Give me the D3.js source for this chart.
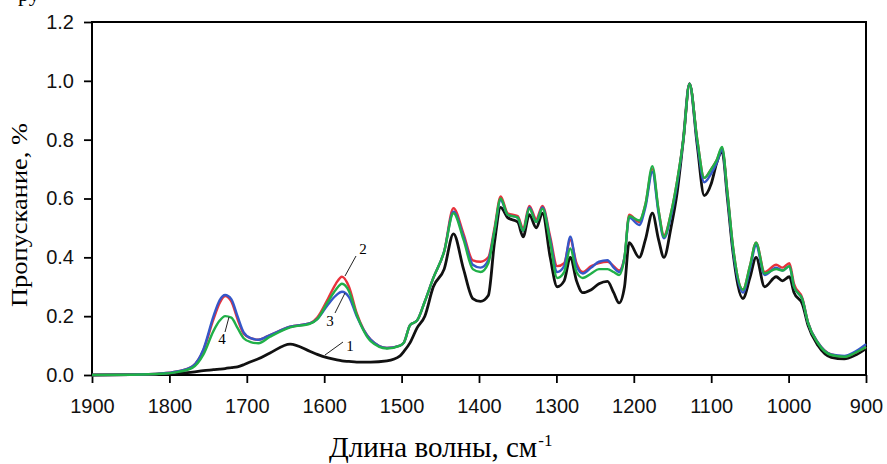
<!DOCTYPE html>
<meta charset="utf-8">
<style>
body { margin: 0; background: #fff; }
.axis text { font: 20px "Liberation Sans", Arial, sans-serif; fill: #111; }
.axis path { display: none; }
.axis line { stroke: #000; stroke-width: 1.8; }
.title { font-family: "Liberation Serif", "Times New Roman", serif; fill: #000; }
</style>
<svg width="887" height="464"></svg>
<script src="https://cdn.jsdelivr.net/npm/d3@7/dist/d3.min.js"></script>
<script>
// wavenumbers, cm-1 (shared by all curves)
var waves = [1900, 1850, 1810, 1790, 1770, 1756, 1743, 1735, 1728, 1720, 1712, 1704, 1695, 1685, 1670, 1644,
  1618, 1609, 1595, 1585, 1577, 1568, 1558, 1540, 1519, 1502, 1497, 1489, 1480, 1470, 1459, 1445, 1433, 1420,
  1408, 1398, 1388, 1380, 1372, 1363, 1350, 1343, 1335, 1326, 1318, 1308, 1299, 1290, 1282, 1274, 1266, 1255,
  1245, 1234, 1226, 1219, 1212, 1206, 1193, 1185, 1176, 1168, 1161, 1152, 1144, 1136, 1128, 1118, 1109, 1100,
  1093, 1086, 1079, 1072, 1059, 1050, 1042, 1031, 1016, 1008, 999, 993, 982, 975, 962, 945, 928, 915, 900];

var curve1 = [0.0, 0.001, 0.003, 0.006, 0.01, 0.015, 0.018, 0.02, 0.022, 0.025, 0.028, 0.035, 0.045, 0.055, 0.075, 0.105,
  0.08, 0.07, 0.058, 0.052, 0.048, 0.046, 0.044, 0.044, 0.048, 0.065, 0.08, 0.11, 0.16, 0.2, 0.3, 0.36, 0.48, 0.36,
  0.26, 0.25, 0.27, 0.45, 0.57, 0.535, 0.52, 0.47, 0.545, 0.5, 0.55, 0.4, 0.3, 0.32, 0.4, 0.32, 0.28, 0.29,
  0.31, 0.318, 0.28, 0.245, 0.3, 0.45, 0.4, 0.46, 0.55, 0.46, 0.4, 0.5, 0.62, 0.8, 0.99, 0.78, 0.61, 0.65,
  0.72, 0.76, 0.6, 0.42, 0.26, 0.33, 0.4, 0.3, 0.334, 0.32, 0.334, 0.28, 0.24, 0.17, 0.1, 0.06, 0.055, 0.066, 0.09];

var curve2 = [0.0, 0.001, 0.005, 0.012, 0.03, 0.085, 0.19, 0.245, 0.268, 0.25, 0.19, 0.14, 0.125, 0.12, 0.136, 0.164,
  0.176, 0.195, 0.26, 0.31, 0.334, 0.3, 0.21, 0.12, 0.092, 0.1, 0.11, 0.17, 0.185, 0.25, 0.33, 0.42, 0.567, 0.48,
  0.39, 0.385, 0.4, 0.5, 0.607, 0.55, 0.54, 0.5, 0.575, 0.53, 0.575, 0.47, 0.37, 0.38, 0.46, 0.38, 0.35, 0.37,
  0.38, 0.385, 0.37, 0.355, 0.4, 0.545, 0.52, 0.58, 0.7, 0.56, 0.475, 0.55, 0.66, 0.8, 0.99, 0.8, 0.67, 0.7,
  0.73, 0.77, 0.62, 0.44, 0.29, 0.37, 0.45, 0.35, 0.375, 0.365, 0.38, 0.31, 0.26, 0.18, 0.11, 0.07, 0.063, 0.074, 0.095];

var curve3 = [0.0, 0.001, 0.005, 0.012, 0.03, 0.088, 0.2, 0.255, 0.272, 0.258, 0.2, 0.145, 0.125, 0.12, 0.136, 0.164,
  0.176, 0.19, 0.24, 0.27, 0.283, 0.265, 0.2, 0.12, 0.092, 0.1, 0.11, 0.17, 0.185, 0.25, 0.33, 0.42, 0.555, 0.47,
  0.375, 0.365, 0.39, 0.49, 0.595, 0.545, 0.535, 0.49, 0.57, 0.52, 0.57, 0.46, 0.35, 0.37, 0.47, 0.37, 0.345, 0.365,
  0.385, 0.39, 0.365, 0.35, 0.4, 0.535, 0.51, 0.57, 0.69, 0.55, 0.465, 0.54, 0.65, 0.8, 0.99, 0.79, 0.655, 0.685,
  0.72, 0.765, 0.61, 0.43, 0.28, 0.36, 0.44, 0.34, 0.365, 0.355, 0.37, 0.3, 0.255, 0.178, 0.11, 0.07, 0.065, 0.078, 0.105];

var curve4 = [0.0, 0.001, 0.004, 0.01, 0.025, 0.07, 0.15, 0.185, 0.2, 0.195, 0.16, 0.125, 0.112, 0.108, 0.13, 0.162,
  0.175, 0.19, 0.25, 0.29, 0.31, 0.285, 0.205, 0.115, 0.09, 0.1, 0.11, 0.17, 0.185, 0.25, 0.33, 0.42, 0.55, 0.46,
  0.36, 0.35, 0.38, 0.49, 0.6, 0.545, 0.535, 0.49, 0.565, 0.52, 0.565, 0.45, 0.33, 0.35, 0.43, 0.35, 0.33, 0.345,
  0.36, 0.36, 0.35, 0.34, 0.4, 0.54, 0.525, 0.58, 0.71, 0.56, 0.47, 0.55, 0.66, 0.8, 0.99, 0.8, 0.67, 0.7,
  0.73, 0.775, 0.62, 0.44, 0.29, 0.37, 0.45, 0.345, 0.36, 0.355, 0.37, 0.3, 0.255, 0.178, 0.108, 0.068, 0.062, 0.074, 0.095];

var seriesColors = ["#111111", "#e8333c", "#3557c9", "#20b048"];
var xTicks = [1900, 1800, 1700, 1600, 1500, 1400, 1300, 1200, 1100, 1000, 900];
var yTicks = [0, 0.2, 0.4, 0.6, 0.8, 1.0, 1.2];

var svg = d3.select("svg");
var x = d3.scaleLinear().domain([1900, 900]).range([92, 866]);
var y = d3.scaleLinear().domain([0, 1.2]).range([375, 22]);

// frame
svg.append("rect")
    .attr("x", x(1900)).attr("y", y(1.2))
    .attr("width", x(900) - x(1900)).attr("height", y(0) - y(1.2))
    .attr("fill", "none").attr("stroke", "#000").attr("stroke-width", 2);

svg.append("g").attr("class", "axis")
    .attr("transform", "translate(0," + y(0) + ")")
    .call(d3.axisBottom(x).tickValues(xTicks).tickFormat(d3.format("d")).tickSize(8).tickPadding(16));

svg.append("g").attr("class", "axis")
    .attr("transform", "translate(" + x(1900) + ",0)")
    .call(d3.axisLeft(y).tickValues(yTicks).tickFormat(d3.format(".1f")).tickSize(8).tickPadding(10));

var line = d3.line()
    .x(function(d) { return x(d[0]); })
    .y(function(d) { return y(d[1]); })
    .curve(d3.curveMonotoneX);

[curve1, curve2, curve3, curve4].forEach(function(vals, i) {
  svg.append("path")
      .datum(waves.map(function(w, k) { return [w, vals[k]]; }))
      .attr("fill", "none")
      .attr("stroke", seriesColors[i])
      .attr("stroke-width", i == 0 ? 2.8 : 2.4)
      .attr("stroke-linejoin", "round")
      .attr("d", line);
});

// curve labels with leader lines
var notes = [
  {t: "1", lx: 350, ly: 351, x1: 343, y1: 342, x2: 325, y2: 355},
  {t: "2", lx: 363, ly: 254, x1: 356, y1: 256, x2: 345, y2: 276},
  {t: "3", lx: 330, ly: 326, x1: 335, y1: 313, x2: 345, y2: 293},
  {t: "4", lx: 222, ly: 344, x1: 225, y1: 332, x2: 229, y2: 317}
];
notes.forEach(function(n) {
  svg.append("line").attr("x1", n.x1).attr("y1", n.y1).attr("x2", n.x2).attr("y2", n.y2)
      .attr("stroke", "#222").attr("stroke-width", 1);
  svg.append("text").attr("class", "title").attr("x", n.lx).attr("y", n.ly)
      .attr("text-anchor", "middle").style("font-size", "15px").text(n.t);
});

// axis titles
svg.append("text").attr("class", "title")
    .attr("transform", "translate(27,215) rotate(-90)")
    .attr("text-anchor", "middle").style("font-size", "23px")
    .attr("textLength", 184).attr("lengthAdjust", "spacingAndGlyphs")
    .text("Пропускание, %");

var xt = svg.append("text").attr("class", "title")
    .attr("x", 329).attr("y", 457)
    .style("font-size", "29px");
xt.append("tspan").text("Длина волны, см");
xt.append("tspan").attr("dx", 1).attr("dy", -11).style("font-size", "17px").text("-1");

// cut-off text from the page above
svg.append("text").attr("class", "title").attr("x", 18).attr("y", 1)
    .style("font-size", "22px").text("ру");
</script>
